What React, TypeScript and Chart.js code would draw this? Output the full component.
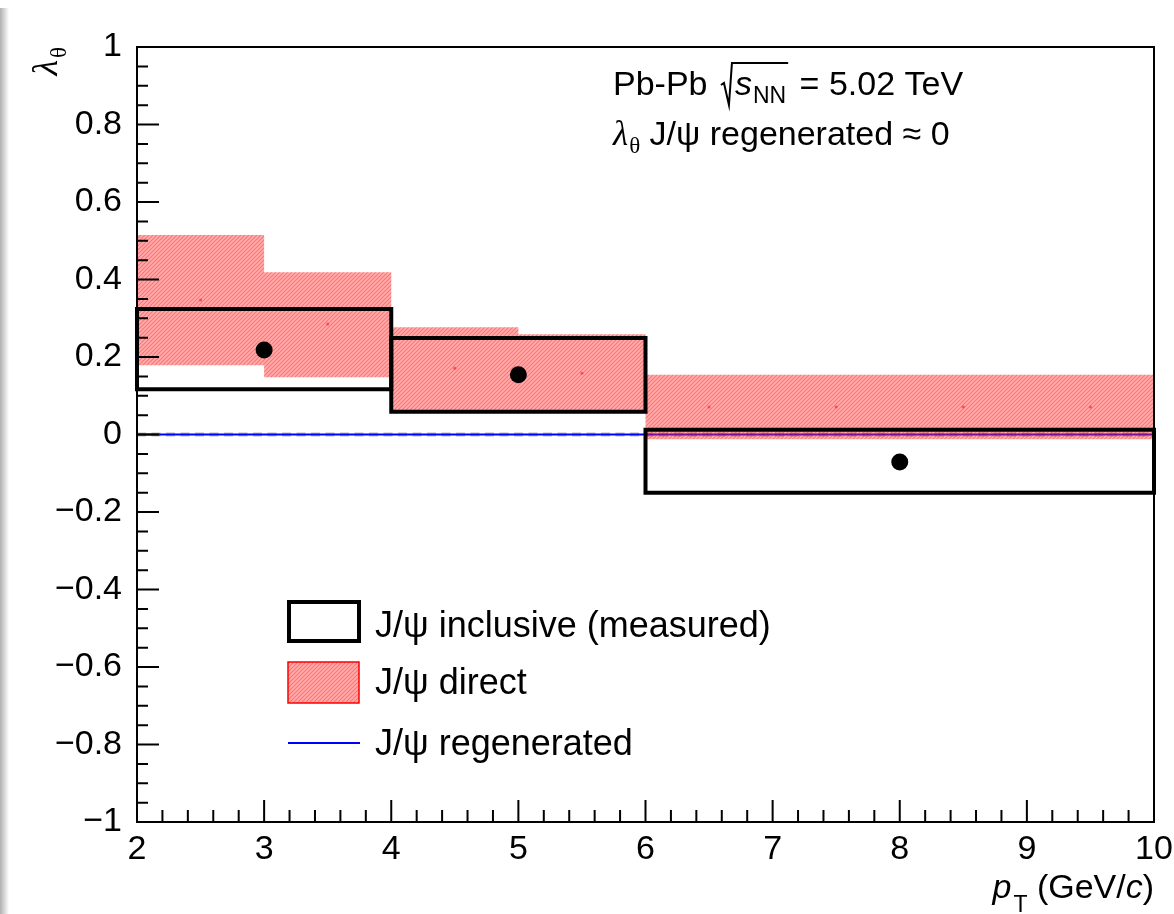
import React, { useEffect, useRef } from "react";
import { Chart, registerables } from "chart.js";

Chart.register(...registerables);

// ---- data ----
const xTickLabels = ["2", "3", "4", "5", "6", "7", "8", "9", "10"];
const yTickLabels = ["−1", "−0.8", "−0.6", "−0.4", "−0.2", "0", "0.2", "0.4", "0.6", "0.8", "1"];

const inclusiveBinLow = [2, 4, 6];
const inclusiveBinHigh = [4, 6, 10];
const inclusiveX = [3, 5, 8];
const inclusiveY = [0.218, 0.154, -0.071];
const inclusiveSystLow = [0.117, 0.059, -0.15];
const inclusiveSystHigh = [0.324, 0.249, 0.012];

const directBinEdges = [2, 3, 4, 5, 6, 7, 8, 9, 10];
const directHigh = [0.515, 0.419, 0.277, 0.259, 0.154, 0.154, 0.154, 0.154];
const directLow = [0.179, 0.148, 0.062, 0.062, -0.012, -0.012, -0.012, -0.012];
const directCentral = [0.347, 0.285, 0.171, 0.158, 0.071, 0.071, 0.071, 0.071];

const regeneratedX = [2, 10];
const regeneratedY = [0, 0];

const FONT = "'Liberation Sans', Arial, sans-serif";
const FS = 34;

function stepPoints(edges: number[], vals: number[]) {
  const pts: { x: number; y: number }[] = [];
  vals.forEach((v, i) => {
    pts.push({ x: edges[i], y: v });
    pts.push({ x: edges[i + 1], y: v });
  });
  return pts;
}

function makeHatch(ctx: CanvasRenderingContext2D) {
  const c = document.createElement("canvas");
  c.width = 4;
  c.height = 4;
  const g = c.getContext("2d")!;
  g.fillStyle = "rgba(255,40,40,0.38)";
  g.fillRect(0, 0, 4, 4);
  g.strokeStyle = "rgba(255,30,30,0.42)";
  g.lineWidth = 1.1;
  g.beginPath();
  g.moveTo(0, 4);
  g.lineTo(4, 0);
  g.moveTo(-1, 1);
  g.lineTo(1, -1);
  g.moveTo(3, 5);
  g.lineTo(5, 3);
  g.stroke();
  return ctx.createPattern(c, "repeat")!;
}

export default function App() {
  const ref = useRef<HTMLCanvasElement | null>(null);

  useEffect(() => {
    const canvas = ref.current!;
    const ctx0 = canvas.getContext("2d")!;
    const hatch = makeHatch(ctx0);

    const datasets: any[] = [];

    // regenerated: gray dashed zero line + blue line
    const regenPts = regeneratedX.map((x, i) => ({ x, y: regeneratedY[i] }));
    datasets.push({
      data: regenPts,
      showLine: true,
      borderColor: "#bcbcbc",
      borderWidth: 4,
      borderDash: [9, 5.5],
      pointRadius: 0,
      fill: false,
      order: 13,
      clip: false,
    });
    datasets.push({
      data: regenPts,
      showLine: true,
      borderColor: "#0000ff",
      borderWidth: 2,
      pointRadius: 0,
      fill: false,
      order: 12,
      clip: false,
    });

    // direct band: top (filled to next) + bottom
    datasets.push({
      data: stepPoints(directBinEdges, directHigh),
      showLine: true,
      borderColor: "transparent",
      borderWidth: 0,
      pointRadius: 0,
      fill: "+1",
      backgroundColor: hatch,
      order: 10,
    });
    datasets.push({
      data: stepPoints(directBinEdges, directLow),
      showLine: true,
      borderColor: "transparent",
      borderWidth: 0,
      pointRadius: 0,
      fill: false,
      order: 10,
    });

    // direct central markers
    datasets.push({
      data: directCentral.map((y, i) => ({ x: (directBinEdges[i] + directBinEdges[i + 1]) / 2, y })),
      showLine: false,
      pointRadius: 1.5,
      backgroundColor: "rgba(255,60,60,0.85)",
      borderWidth: 0,
      order: 9,
    });

    // inclusive syst boxes
    inclusiveX.forEach((_, i) => {
      const lo = inclusiveBinLow[i];
      const hi = inclusiveBinHigh[i];
      const yl = inclusiveSystLow[i];
      const yh = inclusiveSystHigh[i];
      datasets.push({
        data: [
          { x: lo, y: yl },
          { x: lo, y: yh },
          { x: hi, y: yh },
          { x: hi, y: yl },
          { x: lo, y: yl },
        ],
        showLine: true,
        borderColor: "#000",
        borderWidth: 4,
        borderCapStyle: "square",
        borderJoinStyle: "miter",
        pointRadius: 0,
        fill: false,
        order: 5,
        clip: false,
      });
    });

    // inclusive points
    datasets.push({
      data: inclusiveX.map((x, i) => ({ x, y: inclusiveY[i] })),
      showLine: false,
      pointRadius: 8.5,
      backgroundColor: "#000",
      borderWidth: 0,
      order: 1,
      clip: false,
    });

    const framePlugin = {
      id: "frame",
      afterDatasetsDraw(chart: any) {
        const { ctx, chartArea } = chart;
        const { left, right, top, bottom } = chartArea;
        const xs = chart.scales.x;
        const ys = chart.scales.y;
        ctx.save();
        ctx.strokeStyle = "#000";
        ctx.lineWidth = 2;
        ctx.strokeRect(left, top, right - left, bottom - top);
        ctx.beginPath();
        for (let i = 0; i <= 40; i++) {
          const v = -1 + i * 0.05;
          const py = ys.getPixelForValue(v);
          const len = i % 4 === 0 ? 22 : 11;
          ctx.moveTo(left, py);
          ctx.lineTo(left + len, py);
        }
        for (let i = 0; i <= 40; i++) {
          const v = 2 + i * 0.2;
          const px = xs.getPixelForValue(v);
          const len = i % 5 === 0 ? 22 : 12;
          ctx.moveTo(px, bottom);
          ctx.lineTo(px, bottom - len);
        }
        ctx.stroke();
        ctx.restore();
      },
    };

    const textPlugin = {
      id: "texts",
      afterDraw(chart: any) {
        const { ctx, chartArea } = chart;
        ctx.save();
        ctx.fillStyle = "#000";
        ctx.textBaseline = "alphabetic";
        ctx.textAlign = "left";
        const reg = `${FS}px ${FONT}`;
        const ital = `italic ${FS}px ${FONT}`;
        const sub = `23px ${FONT}`;

        // --- annotation line 1 ---
        let x = 613;
        let yb = 95;
        ctx.font = reg;
        ctx.fillText("Pb-Pb", x, yb);
        x += ctx.measureText("Pb-Pb ").width + 4;
        // sqrt sign
        const sx = x;
        ctx.font = ital;
        const sW = ctx.measureText("s").width;
        ctx.font = sub;
        const nnW = ctx.measureText("NN").width;
        const sEnd = sx + 14 + sW + 1 + nnW + 2;
        ctx.strokeStyle = "#000";
        ctx.lineWidth = 2;
        ctx.beginPath();
        ctx.moveTo(sx, yb - 10);
        ctx.lineTo(sx + 3, yb - 12);
        ctx.lineTo(sx + 8, yb + 10);
        ctx.lineTo(sx + 11, yb - 32);
        ctx.lineTo(sEnd, yb - 32);
        ctx.stroke();
        ctx.font = ital;
        ctx.fillText("s", sx + 14, yb);
        ctx.font = sub;
        ctx.fillText("NN", sx + 14 + sW + 1, yb + 8);
        ctx.font = reg;
        ctx.fillText(" = 5.02 TeV", sEnd + 2, yb);

        // --- annotation line 2 ---
        x = 613;
        yb = 145;
        ctx.font = `italic ${FS + 1}px 'Liberation Serif', serif`;
        ctx.fillText("λ", x, yb);
        x += ctx.measureText("λ").width + 1;
        ctx.font = `23px 'Liberation Serif', serif`;
        ctx.fillText("θ", x, yb + 8);
        x += ctx.measureText("θ").width;
        ctx.font = reg;
        ctx.fillText(" J/ψ regenerated ≈ 0", x, yb);

        // --- legend ---
        ctx.lineWidth = 4;
        ctx.strokeStyle = "#000";
        ctx.strokeRect(289, 602, 70, 39);
        ctx.fillStyle = hatch;
        ctx.fillRect(288, 662, 71, 41);
        ctx.lineWidth = 1.5;
        ctx.strokeStyle = "#ff0000";
        ctx.strokeRect(288, 662, 71, 41);
        ctx.lineWidth = 2;
        ctx.strokeStyle = "#0000ff";
        ctx.beginPath();
        ctx.moveTo(288, 743);
        ctx.lineTo(360, 743);
        ctx.stroke();
        ctx.fillStyle = "#000";
        ctx.font = `${FS + 2}px ${FONT}`;
        ctx.fillText("J/ψ inclusive (measured)", 375, 637);
        ctx.fillText("J/ψ direct", 375, 694);
        ctx.fillText("J/ψ regenerated", 375, 755);

        // --- x title ---
        ctx.font = ital;
        const pW = ctx.measureText("p").width;
        ctx.font = sub;
        const tW = ctx.measureText("T").width;
        ctx.font = reg;
        const a1 = " (GeV/";
        const a1W = ctx.measureText(a1).width;
        const a3W = ctx.measureText(")").width;
        ctx.font = ital;
        const cW = ctx.measureText("c").width;
        const total = pW + 2 + tW + a1W + cW + a3W;
        x = chartArea.right - total;
        yb = 898;
        ctx.font = ital;
        ctx.fillText("p", x, yb);
        x += pW + 2;
        ctx.font = sub;
        ctx.fillText("T", x, yb + 14);
        x += tW;
        ctx.font = reg;
        ctx.fillText(a1, x, yb);
        x += a1W;
        ctx.font = ital;
        ctx.fillText("c", x, yb);
        x += cW;
        ctx.font = reg;
        ctx.fillText(")", x, yb);

        // --- y title ---
        ctx.translate(57, chartArea.top);
        ctx.rotate(-Math.PI / 2);
        ctx.font = `23px 'Liberation Serif', serif`;
        const thW = ctx.measureText("θ").width;
        ctx.font = `italic 36px 'Liberation Serif', serif`;
        const lW = ctx.measureText("λ").width;
        ctx.fillText("λ", -(thW + lW + 2), 0);
        ctx.font = `23px 'Liberation Serif', serif`;
        ctx.fillText("θ", -thW, 9);
        ctx.restore();
      },
    };

    const chart = new Chart(canvas, {
      type: "scatter",
      data: { datasets },
      options: {
        responsive: false,
        animation: false,
        devicePixelRatio: 1,
        layout: { padding: { left: 0, top: 47, right: 20, bottom: 0 } },
        plugins: {
          legend: { display: false },
          tooltip: { enabled: false },
        },
        events: [],
        scales: {
          x: {
            type: "linear",
            min: 2,
            max: 10,
            grid: { display: false, drawTicks: false },
            border: { display: false },
            ticks: {
              stepSize: 1,
              padding: 7,
              color: "#000",
              font: { family: FONT, size: FS },
              maxRotation: 0,
              autoSkip: false,
              callback: (_v: any, i: number) => xTickLabels[i],
            },
            afterFit: (s: any) => {
              s.height = 914 - 822;
              s.paddingLeft = 0;
              s.paddingRight = 0;
            },
          },
          y: {
            type: "linear",
            min: -1,
            max: 1,
            grid: { display: false, drawTicks: false },
            border: { display: false },
            ticks: {
              stepSize: 0.2,
              padding: 15,
              color: "#000",
              font: { family: FONT, size: FS },
              autoSkip: false,
              callback: (_v: any, i: number) => yTickLabels[i],
            },
            afterFit: (s: any) => {
              s.width = 137;
              s.paddingTop = 0;
              s.paddingBottom = 0;
            },
          },
        },
      },
      plugins: [framePlugin, textPlugin],
    } as any);

    return () => chart.destroy();
  }, []);

  return (
    <div
      style={{
        position: "fixed",
        left: 0,
        top: 0,
        width: 1174,
        height: 914,
        background: "#fff",
        overflow: "hidden",
      }}
    >
      <canvas ref={ref} width={1174} height={914} style={{ display: "block", width: 1174, height: 914 }} />
      <div
        style={{
          position: "absolute",
          left: 0,
          top: 8,
          width: 9,
          height: 906,
          background: "linear-gradient(to right, #b0b0b0, rgba(255,255,255,0))",
          pointerEvents: "none",
        }}
      />
    </div>
  );
}
